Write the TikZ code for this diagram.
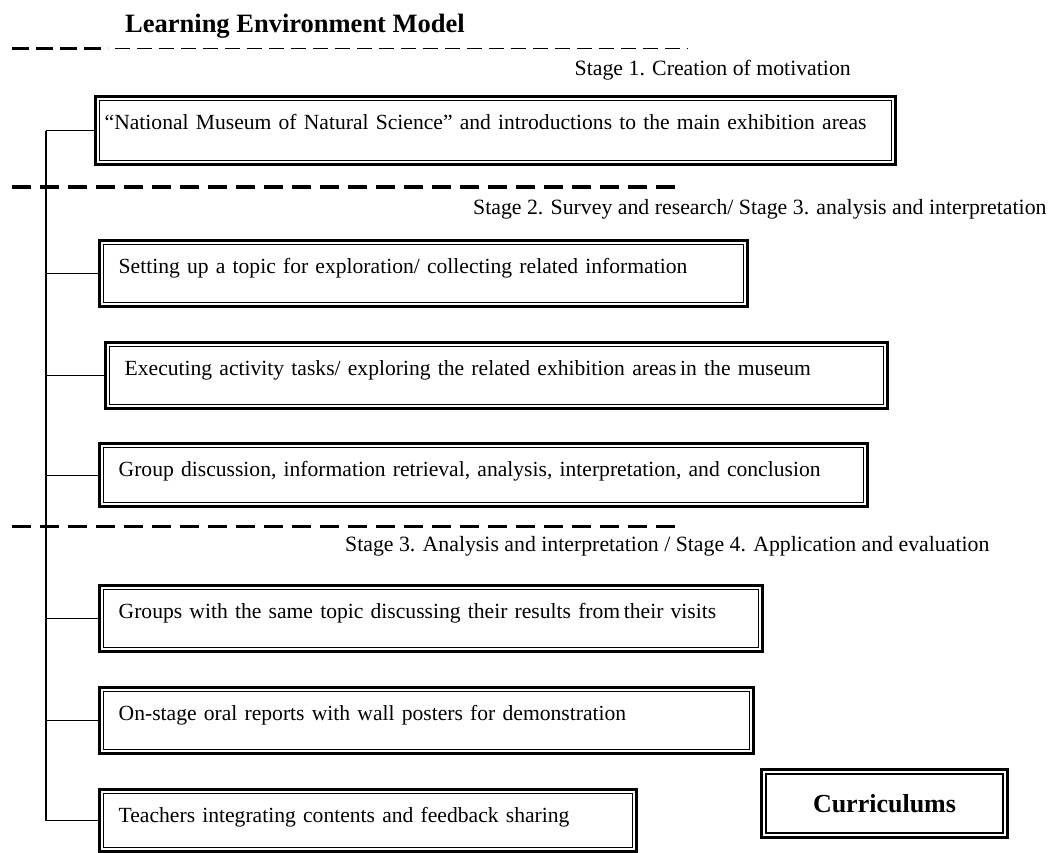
\documentclass[tikz,border=0pt]{standalone}
\usepackage{fontspec}
\setmainfont{Liberation Serif}
\usepackage{tikz}
\tikzset{
  stepbox/.style={draw, line width=1.4pt, anchor=north west, inner xsep=15pt, inner ysep=0pt,
                  text height=29pt, text depth=29pt, align=left, font=\fontsize{21.6}{26}\selectfont},
  endbox/.style={draw, line width=1.4pt, minimum width=237pt, minimum height=59pt,
                 font=\bfseries\fontsize{26}{30}\selectfont},
  outerframe/.style={line width=3pt},
  branch/.style={line width=1.2pt},
  stagelabel/.style={font=\fontsize{21.8}{26}\selectfont, inner sep=0pt},
  headline/.style={font=\bfseries\fontsize{26.5}{30}\selectfont, inner sep=0pt},
  divider/.style={line width=3pt, dash pattern=on 19pt off 9pt},
  thickdash/.style={line width=3pt, dash pattern=on 17pt off 7pt},
  thindash/.style={line width=1pt, dash pattern=on 15pt off 7pt},
}

\begin{document}
\begin{tikzpicture}[x=1pt, y=-1pt]
\useasboundingbox (0,0) rectangle (1051,853);

% heading and stage separators
\node[headline, anchor=base west] (title) at (125,33) {Learning Environment Model};
\draw[thickdash] (12,49) -- (108,49);
\draw[thindash] (115,49) -- (688,49);
\draw[divider] (12,187) -- (683,187);
\draw[divider] (12,526) -- (683,526);

\node[stagelabel, anchor=base east] (s1) at (851,76) {Stage 1. Creation of motivation};
\node[stagelabel, anchor=base west] (s2) at (473,214) {Stage 2. Survey and research/ Stage 3. analysis and interpretation};
\node[stagelabel, anchor=base west] (s3) at (345,551) {Stage 3. Analysis and interpretation / Stage 4. Application and evaluation};

% activity boxes
\node[stepbox, inner xsep=5pt, text width=782pt, text depth=31pt] (b1) at (99,100)
  {“National Museum of Natural Science” and introductions to the main exhibition areas};
\node[stepbox, text width=610pt] (b2) at (103,244)
  {Setting up a topic for exploration/ collecting related information};
\node[stepbox, text width=744pt] (b3) at (109,346)
  {Executing activity tasks/ exploring the related exhibition areas\,in the museum};
\node[stepbox, text width=730pt, text depth=26pt] (b4) at (103,447)
  {Group discussion, information retrieval, analysis, interpretation, and conclusion};
\node[stepbox, text width=625pt] (b5) at (103,589)
  {Groups with the same topic discussing their results from\,their visits};
\node[stepbox, text width=616pt] (b6) at (103,691)
  {On-stage oral reports with wall posters for demonstration};
\node[stepbox, text width=499pt, text depth=25pt] (b7) at (103,793)
  {Teachers integrating contents and feedback sharing};

\node[endbox] (cur) at (884.5,803.5) {Curriculums};

% second line of the double border
\foreach \n in {b1,b2,b3,b4,b5,b6,b7,cur}
  \draw[outerframe] ([shift={(-3.5pt,3.5pt)}]\n.north west) rectangle ([shift={(3.5pt,-3.5pt)}]\n.south east);

% spine on the left with its branches
\coordinate (spine) at (46,0);
\draw[branch] (spine |- b1.west) -- (spine |- b7.west);
\foreach \n in {b1,b2,b3,b4,b5,b6,b7}
  \draw[branch] (spine |- \n.west) -- ([xshift=-4pt]\n.west);
\end{tikzpicture}
\end{document}
